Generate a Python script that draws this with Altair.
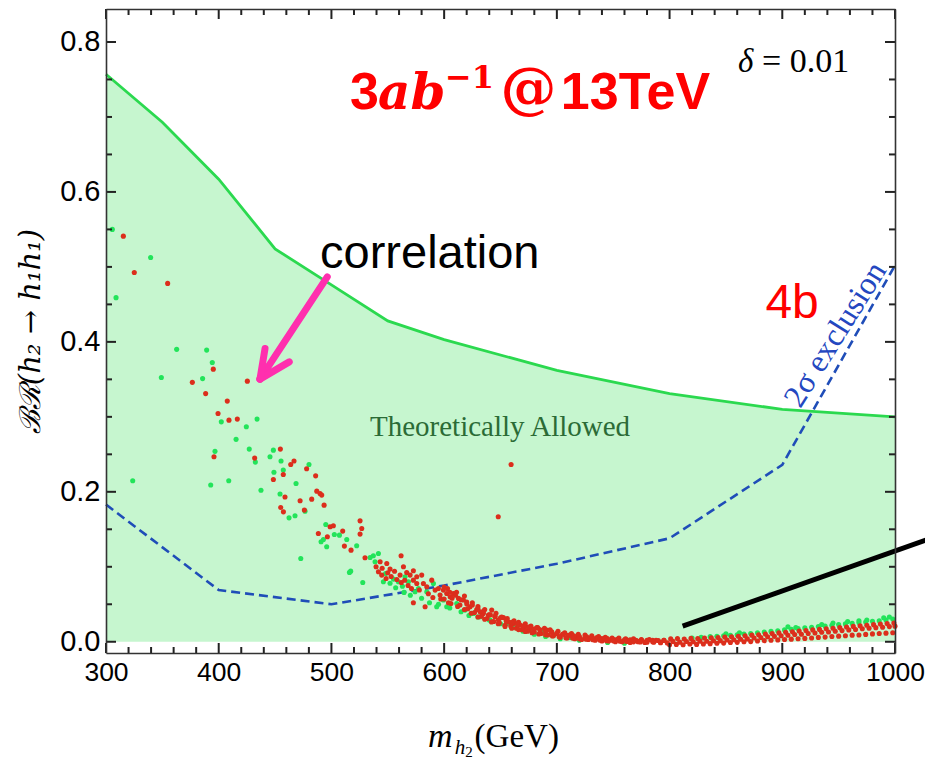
import altair as alt
import pandas as pd

# ---------------------------------------------------------------- axes
X_MIN, X_MAX = 300, 1000
Y_MIN, Y_MAX = -0.015, 0.844
W, H = 789, 644

x_major = [300, 400, 500, 600, 700, 800, 900, 1000]
x_minor = [320, 340, 360, 380, 420, 440, 460, 480, 520, 540, 560, 580,
           620, 640, 660, 680, 720, 740, 760, 780, 820, 840, 860, 880,
           920, 940, 960, 980]
y_major = [0.0, 0.2, 0.4, 0.6, 0.8]
y_minor = [0.05, 0.1, 0.15, 0.25, 0.3, 0.35, 0.45, 0.5, 0.55, 0.65, 0.7, 0.75]

# ---------------------------------------------------------------- curves
# upper edge of the theoretically allowed region
bound_m = [300, 350, 400, 450, 500, 550, 600, 700, 800, 900, 1000]
bound_br = [0.757, 0.693, 0.617, 0.524, 0.476, 0.428, 0.403, 0.362, 0.331, 0.310, 0.300]

# 2 sigma exclusion (4b channel)
excl_m = [300, 400, 500, 600, 700, 800, 900, 1000]
excl_br = [0.183, 0.069, 0.050, 0.075, 0.104, 0.138, 0.236, 0.502]

# ---------------------------------------------------------------- scan points
green_m = [
    305.6, 308.9, 339.6, 362.7, 389.3, 394.3, 349.1, 385.7, 402.3, 424.5, 434.0, 415.4,
    396.7, 427.1, 432.5, 445.5, 448.5, 455.3, 457.3, 449.0, 480.1, 468.6, 323.7, 392.9,
    408.9, 437.5, 454.4, 462.4, 467.7, 476.6, 472.8, 490.8, 495.0, 495.8, 492.9, 502.6,
    507.1, 513.6, 522.4, 517.1, 516.0, 527.8, 534.3, 537.2, 541.7, 538.7, 546.1, 555.0,
    559.4, 565.3, 568.3, 574.2, 564.4, 577.2, 584.6, 590.5, 599.3, 593.4, 602.3, 611.2,
    618.6, 626.0, 631.9, 640.8, 655.5, 664.4, 676.2, 688.1, 697.0, 711.7, 732.4,
    630, 640, 650, 660, 670, 680, 690, 703, 720, 745, 760,
    548, 552, 557, 563, 570, 580, 587, 595, 605, 615, 622,
    836, 842, 848, 854, 860, 866, 872, 878, 884, 890, 896, 902, 908, 914, 920, 926,
    932, 938, 944, 950, 956, 962, 968, 974, 980, 986, 992, 998,
    850, 862, 905, 945, 990, 820, 828, 958, 975, 912, 935, 968, 995,
]
green_br = [
    0.550, 0.459, 0.5125, 0.390, 0.389, 0.3725, 0.3525, 0.351, 0.2933, 0.2867, 0.297, 0.270,
    0.254, 0.257, 0.2396, 0.2467, 0.2556, 0.241, 0.229, 0.226, 0.2365, 0.211, 0.2147, 0.209,
    0.2147, 0.202, 0.197, 0.1653, 0.168, 0.1742, 0.1111, 0.1333, 0.1564, 0.1267, 0.1364, 0.1431,
    0.1422, 0.1364, 0.128, 0.0942, 0.0925, 0.0791, 0.1124, 0.1147, 0.1178, 0.1067, 0.080, 0.0836,
    0.080, 0.0867, 0.080, 0.0667, 0.0658, 0.0711, 0.0667, 0.0778, 0.0556, 0.0467, 0.0467, 0.0511,
    0.0422, 0.0378, 0.0333, 0.0289, 0.0244, 0.0209, 0.0156, 0.0133, 0.0089, 0.0058, 0.0031,
    0.033, 0.029, 0.024, 0.019, 0.014, 0.010, 0.007, 0.004, 0.002, -0.001, -0.002,
    0.091, 0.078, 0.072, 0.074, 0.062, 0.058, 0.052, 0.050, 0.045, 0.040, 0.035,
    0.0068, 0.0072, 0.0081, 0.0086, 0.0094, 0.0102, 0.011, 0.012, 0.0131, 0.0138, 0.0147, 0.0158,
    0.0166, 0.0176, 0.0185, 0.0193, 0.0204, 0.0211, 0.022, 0.0229, 0.0238, 0.0245, 0.0256, 0.0262,
    0.0272, 0.0281, 0.029, 0.0302,
    0.0105, 0.012, 0.020, 0.025, 0.032, 0.005, 0.006, 0.027, 0.029, 0.019, 0.023, 0.028, 0.033,
]

red_m = [
    315.4, 325.1, 354.7, 395.2, 376.6, 425.4, 388.4, 407.6, 399.4, 409.1, 416.5, 395.8,
    431.9, 454.7, 466.8, 463.9, 457.3, 478.0, 486.0, 448.5, 458.8, 455.0, 457.4, 472.2,
    476.0, 482.5, 487.0, 489.9, 491.4, 493.5, 488.4, 498.8, 501.7, 496.4, 510.0, 511.5,
    517.4, 525.4, 526.9, 525.4, 529.8, 543.2, 539.6, 541.7, 544.6, 548.5, 549.1, 552.0,
    561.8, 563.9, 560.9, 566.8, 569.8, 572.7, 575.7, 572.7, 575.7, 580.1, 581.6, 584.6,
    589.0, 592.0, 594.9, 572.7, 596.4, 599.3, 602.3, 605.3, 608.2, 583.1, 603.8, 612.7,
    617.1, 620.1, 623.0, 628.9, 631.9, 634.8, 639.3, 642.2, 645.2, 648.2, 652.6, 657.0,
    661.5, 667.4, 671.8, 676.2, 682.2, 685.1, 691.0, 695.5, 699.9, 705.8, 711.7, 719.1,
    726.5, 735.4, 744.3, 753.1, 762.0, 770.9, 779.8, 659.4, 648.0,
    545, 550, 553, 556, 558, 562, 565, 568, 571, 578, 586, 590, 597,
    603, 607, 611, 614, 618, 621, 625, 627, 630, 633, 636, 638, 641, 644, 646, 649,
    651, 654, 656, 659, 662, 664, 666, 669, 672, 674, 677, 680, 683, 686, 689, 692,
    694, 697, 701, 703, 707, 709, 713, 716, 719, 722, 725, 728, 731, 734, 737, 740,
    743, 746, 749, 752, 755, 758, 761, 765, 768, 772, 775, 778, 782, 785, 788, 792,
    795, 798,
    600, 605, 610, 615, 620, 625, 630, 635, 640, 645, 650, 655, 660, 665, 670, 675,
    680, 685, 690, 695, 700, 705, 710, 715, 720, 725, 730, 735, 740, 745, 750, 755,
    760, 765, 770, 775, 780, 785, 790, 795,
    600, 606, 612, 618, 624, 630, 636, 642, 648, 654, 660, 666, 672, 678, 684, 690,
    696, 702, 708, 714, 720, 726, 732, 738, 744, 750, 756, 762, 768, 774, 780, 786,
    792,
    800, 806, 812, 818, 824, 830, 836, 842, 848, 854, 860, 866, 872, 878, 884, 890,
    896, 902, 908, 914, 920, 926, 932, 938, 944, 950, 956, 962, 968, 974, 980, 986,
    992, 998,
    803, 809, 815, 821, 827, 833, 839, 845, 851, 857, 863, 869, 875, 881, 887, 893,
    899, 905, 911, 917, 923, 929, 935, 941, 947, 953, 959, 965, 971, 977, 983, 989,
    995, 1000,
    801, 807, 813, 819, 825, 831, 837, 843, 849, 855, 861, 867, 873, 879, 885, 891,
    897, 903, 909, 915, 921, 927, 933, 939, 945, 951, 957, 963, 969, 975, 981, 987,
    993, 999,
]
red_br = [
    0.541, 0.4925, 0.478, 0.3636, 0.346, 0.3476, 0.331, 0.321, 0.3045, 0.2956, 0.297, 0.2467,
    0.245, 0.257, 0.241, 0.2365, 0.223, 0.2307, 0.2213, 0.2165, 0.193, 0.179, 0.1733, 0.188,
    0.1756, 0.1902, 0.2009, 0.1978, 0.1956, 0.1822, 0.1444, 0.1533, 0.1547, 0.140, 0.1476, 0.1276,
    0.1222, 0.1613, 0.1511, 0.1436, 0.112, 0.1067, 0.100, 0.0933, 0.0889, 0.0844, 0.1044, 0.0969,
    0.1147, 0.100, 0.0889, 0.0924, 0.0889, 0.0947, 0.0867, 0.0822, 0.0778, 0.0889, 0.0778, 0.0733,
    0.0822, 0.0689, 0.0711, 0.052, 0.0622, 0.0689, 0.0644, 0.060, 0.0644, 0.0467, 0.052, 0.0578,
    0.0556, 0.0502, 0.0467, 0.0431, 0.040, 0.0378, 0.0356, 0.0422, 0.0333, 0.0289, 0.0324, 0.0267,
    0.0244, 0.0222, 0.020, 0.0178, 0.0191, 0.0156, 0.0156, 0.0133, 0.0111, 0.0102, 0.0089, 0.0076,
    0.0067, 0.0053, 0.0044, 0.0031, 0.0022, 0.0013, 0.0009, 0.2365, 0.1667,
    0.098, 0.092, 0.087, 0.094, 0.083, 0.079, 0.082, 0.075, 0.071, 0.069, 0.064, 0.059, 0.057,
    0.071, 0.058, 0.066, 0.049, 0.061, 0.044, 0.052, 0.039, 0.047, 0.034, 0.043, 0.031,
    0.036, 0.027, 0.038, 0.025, 0.033, 0.022, 0.031, 0.021, 0.028, 0.018, 0.026, 0.016,
    0.024, 0.014, 0.021, 0.013, 0.019, 0.011, 0.018, 0.009, 0.016, 0.008, 0.014, 0.006,
    0.012, 0.005, 0.011, 0.004, 0.010, 0.003, 0.009, 0.003, 0.008, 0.002, 0.007, 0.001,
    0.006, 0.001, 0.005, 0.000, 0.005, 0.000, 0.004, -0.001, 0.004, 0.000, 0.003, -0.001,
    0.003, 0.000, 0.002, -0.001, 0.002, -0.0015,
    0.073, 0.066, 0.062, 0.056, 0.053, 0.049, 0.044, 0.041, 0.036, 0.034, 0.032, 0.028,
    0.026, 0.024, 0.021, 0.0195, 0.017, 0.0158, 0.0138, 0.0127, 0.011, 0.0101, 0.0086, 0.008,
    0.007, 0.0064, 0.0053, 0.005, 0.0043, 0.004, 0.0033, 0.0031, 0.0026, 0.0025, 0.0021, 0.0022,
    0.0018, 0.0019, 0.0016, 0.0018,
    0.057, 0.051, 0.047, 0.043, 0.038, 0.033, 0.030, 0.0265, 0.024, 0.0205, 0.018, 0.0162,
    0.0138, 0.0121, 0.0103, 0.0092, 0.0077, 0.0068, 0.0054, 0.0049, 0.0039, 0.0034, 0.0026,
    0.0022, 0.0015, 0.0012, 0.0006, 0.0004, -0.0001, -0.0002, -0.0007, -0.0007, -0.0012,
    -0.004, -0.0035, -0.004, -0.003, -0.0035, -0.003, -0.0025, -0.002, -0.0018, -0.001, -0.0008, 0.0,
    0.0002, 0.001, 0.0015, 0.002, 0.0025, 0.003, 0.0035, 0.004, 0.0045, 0.005, 0.0058, 0.0062,
    0.007, 0.0075, 0.008, 0.0088, 0.009, 0.0098, 0.0105, 0.011, 0.0115, 0.012,
    0.0005, -0.0005, 0.0003, 0.0, 0.0008, 0.0006, 0.0014, 0.0015, 0.0024, 0.0027, 0.0034, 0.0038,
    0.005, 0.0056, 0.0066, 0.0072, 0.0081, 0.0087, 0.0097, 0.0101, 0.011, 0.0117, 0.0127, 0.0131,
    0.014, 0.0149, 0.0158, 0.0163, 0.0174, 0.018, 0.0188, 0.0193, 0.0202, 0.0208,
    0.0038, 0.0042, 0.0036, 0.0045, 0.0042, 0.005, 0.0052, 0.0057, 0.0062, 0.0066, 0.0074, 0.0079,
    0.0088, 0.0094, 0.0103, 0.011, 0.0118, 0.0126, 0.0134, 0.0142, 0.015, 0.0158, 0.0165, 0.0174,
    0.018, 0.0189, 0.0197, 0.0205, 0.0212, 0.0221, 0.0228, 0.0236, 0.0242, 0.025,
]

# ---------------------------------------------------------------- styles
FRAME = "#333333"
TICK = "#222222"
FILL = "#c6f6cf"
EDGE = "#2bd94f"
BLUE = "#1f4db8"
RED_PT = "#dc2e1c"
GREEN_PT = "#22e45a"
RED = "#ff0000"
TICK_FONT = "Liberation Sans Narrow, Liberation Sans, Arial"

# tick lengths in pixels, turned into data units of the other axis
MAJOR_PX, MINOR_PX = 10, 6
BR_PER_PX = (Y_MAX - Y_MIN) / H
GEV_PER_PX = (X_MAX - X_MIN) / W

bound = pd.DataFrame({"m": bound_m, "br": bound_br})
excl = pd.DataFrame({"m": excl_m, "br": excl_br})
green = pd.DataFrame({"m": green_m, "br": green_br})
red = pd.DataFrame({"m": red_m, "br": red_br})

x_len = [MAJOR_PX * BR_PER_PX] * len(x_major) + [MINOR_PX * BR_PER_PX] * len(x_minor)
y_len = [MAJOR_PX * GEV_PER_PX] * len(y_major) + [MINOR_PX * GEV_PER_PX] * len(y_minor)
x_ticks = pd.DataFrame({
    "v": x_major + x_minor,
    "bot0": [Y_MIN] * len(x_len),
    "bot1": [Y_MIN + d for d in x_len],
    "top0": [Y_MAX] * len(x_len),
    "top1": [Y_MAX - d for d in x_len],
})
y_ticks = pd.DataFrame({
    "v": y_major + y_minor,
    "lft0": [X_MIN] * len(y_len),
    "lft1": [X_MIN + d for d in y_len],
    "rgt0": [X_MAX] * len(y_len),
    "rgt1": [X_MAX - d for d in y_len],
})


def xs():
    return alt.Scale(domain=[X_MIN, X_MAX], nice=False, zero=False)


def ys():
    return alt.Scale(domain=[Y_MIN, Y_MAX], nice=False, zero=False)


def frame_axis(orient):
    return alt.Axis(orient=orient, labels=False, ticks=False, grid=False, domain=True,
                    domainColor=FRAME, domainWidth=1.6, title=None, zindex=2)


# allowed region, carrying the labelled bottom/left axes
area = alt.Chart(bound).mark_area(color=FILL, opacity=1).encode(
    x=alt.X("m:Q", scale=xs(), axis=alt.Axis(
        orient="bottom", values=x_major, format="d", grid=False, ticks=False,
        domain=True, domainColor=FRAME, domainWidth=1.6, labelFlush=False,
        labelFont=TICK_FONT, labelFontSize=26.5, labelColor="black", labelPadding=6,
        title=None, zindex=2)),
    y=alt.Y("br:Q", scale=ys(), axis=alt.Axis(
        orient="left", values=y_major, format=".1f", grid=False, ticks=False,
        domain=True, domainColor=FRAME, domainWidth=1.6, labelFlush=False,
        labelFont=TICK_FONT, labelFontSize=29, labelColor="black", labelPadding=6,
        title="ℬℛ(h₂ → h₁h₁)", titleFont="DejaVu Serif", titleFontStyle="italic",
        titleFontWeight="normal", titleFontSize=29, titleColor="black",
        titleAngle=270, titleBaseline="middle", titleX=-76, titleY=322, zindex=2)),
    y2=alt.datum(0),
)

# boundary line, carrying the unlabelled top/right frame
edge = alt.Chart(bound).mark_line(color=EDGE, strokeWidth=2.8).encode(
    x=alt.X("m:Q", scale=xs(), axis=frame_axis("top")),
    y=alt.Y("br:Q", scale=ys(), axis=frame_axis("right")),
)


def tick_rules(df, along, start, end):
    base = alt.Chart(df).mark_rule(color=TICK, strokeWidth=2)
    if along == "x":
        return base.encode(
            x=alt.X("v:Q", scale=xs(), axis=None),
            y=alt.Y(f"{start}:Q", scale=ys(), axis=None),
            y2=alt.Y2(f"{end}"),
        )
    return base.encode(
        y=alt.Y("v:Q", scale=ys(), axis=None),
        x=alt.X(f"{start}:Q", scale=xs(), axis=None),
        x2=alt.X2(f"{end}"),
    )


# inward ticks on all four sides of the frame
ticks = [
    tick_rules(x_ticks, "x", "bot0", "bot1"),
    tick_rules(x_ticks, "x", "top0", "top1"),
    tick_rules(y_ticks, "y", "lft0", "lft1"),
    tick_rules(y_ticks, "y", "rgt0", "rgt1"),
]

excl_line = alt.Chart(excl).mark_line(color=BLUE, strokeWidth=2.6, strokeDash=[9, 5]).encode(
    x=alt.X("m:Q", scale=xs(), axis=None),
    y=alt.Y("br:Q", scale=ys(), axis=None),
)

green_pts = alt.Chart(green).mark_circle(color=GREEN_PT, size=26, opacity=1).encode(
    x=alt.X("m:Q", scale=xs(), axis=None),
    y=alt.Y("br:Q", scale=ys(), axis=None),
)

red_pts = alt.Chart(red).mark_circle(color=RED_PT, size=26, opacity=1).encode(
    x=alt.X("m:Q", scale=xs(), axis=None),
    y=alt.Y("br:Q", scale=ys(), axis=None),
)

# pointer line towards the band minimum
pointer = pd.DataFrame({"m": [811.6], "br": [0.0209], "m2": [1030.0], "br2": [0.137]})
pointer_line = alt.Chart(pointer).mark_rule(color="black", strokeWidth=5).encode(
    x=alt.X("m:Q", scale=xs(), axis=None),
    y=alt.Y("br:Q", scale=ys(), axis=None),
    x2="m2:Q", y2="br2:Q",
)

# magenta arrow: shaft and two head strokes
arrow = pd.DataFrame({
    "m": [496.3, 436.6, 436.6],
    "br": [0.4867, 0.3503, 0.3503],
    "m2": [436.6, 462.6, 441.1],
    "br2": [0.3503, 0.3733, 0.3912],
})
arrow_marks = alt.Chart(arrow).mark_rule(color="#ff2fae", strokeWidth=7, strokeCap="round").encode(
    x=alt.X("m:Q", scale=xs(), axis=None),
    y=alt.Y("br:Q", scale=ys(), axis=None),
    x2="m2:Q", y2="br2:Q",
)


def label(text, m, br, **style):
    df = pd.DataFrame({"m": [m], "br": [br], "t": [text]})
    style.setdefault("align", "left")
    style.setdefault("baseline", "alphabetic")
    return alt.Chart(df).mark_text(**style).encode(
        x=alt.X("m:Q", scale=xs(), axis=None),
        y=alt.Y("br:Q", scale=ys(), axis=None),
        text="t:N",
    )


texts = [
    label("3", 516.5, 0.710, font="Liberation Sans", fontWeight="bold", fontSize=52, color=RED),
    label("ab", 541.3, 0.710, font="DejaVu Serif", fontWeight="bold", fontStyle="italic",
          fontSize=50, color=RED),
    label("−1", 600.8, 0.7383, font="DejaVu Serif", fontWeight="bold", fontSize=32, color=RED),
    label("@", 650.0, 0.713, font="DejaVu Serif", fontWeight="bold", fontSize=56, color=RED),
    label("13TeV", 703.5, 0.710, font="Liberation Sans", fontWeight="bold", fontSize=52, color=RED),
    label("δ", 860.8, 0.760, font="Liberation Serif", fontStyle="italic", fontSize=33, color="black"),
    label("= 0.01", 882.0, 0.760, font="Liberation Serif", fontSize=34, color="black"),
    label("correlation", 489.9, 0.4979, font="Liberation Sans", fontSize=47, color="black"),
    label("4b", 885.0, 0.4312, font="Liberation Sans", fontSize=48, color=RED),
    label("Theoretically Allowed", 649.6, 0.2743, font="Liberation Serif", fontSize=29,
          color="#2b6b36", align="center"),
    label("2σ exclusion", 947.0, 0.410, font="Liberation Serif", fontSize=32, color="#2447c0",
          align="center", baseline="middle", angle=302),
    # horizontal axis title m_{h2}(GeV)
    label("m", 585.7, -0.1403, font="Liberation Serif", fontStyle="italic", fontSize=34, color="black"),
    label("h", 609.5, -0.1493, font="Liberation Serif", fontStyle="italic", fontSize=21, color="black"),
    label("2", 618.8, -0.1540, font="Liberation Serif", fontSize=15, color="black"),
    label("(GeV)", 627.0, -0.1403, font="Liberation Serif", fontSize=33, color="black"),
]

chart = alt.layer(
    area, edge, excl_line, green_pts, red_pts, pointer_line, arrow_marks, *ticks, *texts
).resolve_axis(
    x="independent", y="independent"
).properties(
    width=W, height=H,
    autosize=alt.AutoSizeParams(type="none"),
    padding={"left": 106, "top": 9, "right": 30, "bottom": 108},
    background="white",
).configure_view(stroke=None)

chart.save("out.html", embed_options={"renderer": "svg", "actions": False})
